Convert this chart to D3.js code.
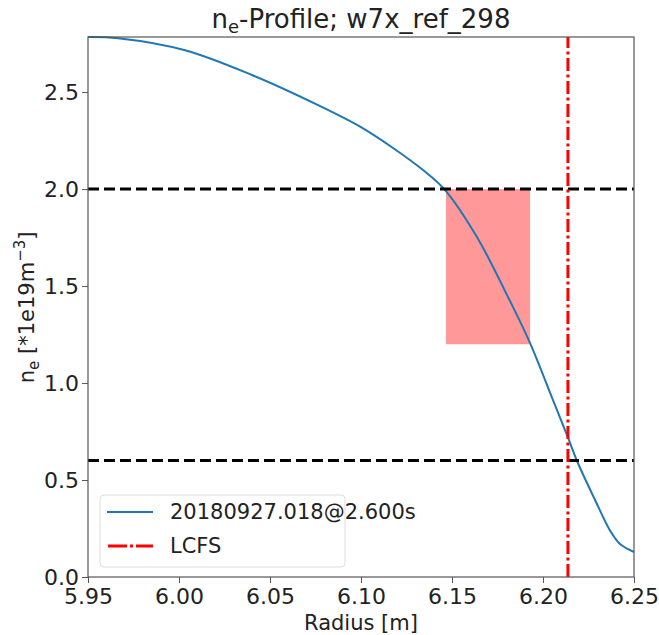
<!DOCTYPE html>
<html>
<head>
<meta charset="utf-8">
<script src="https://cdn.jsdelivr.net/npm/d3@7"></script>
<style>
  body { margin: 0; background: #fff; }
  text { font-family: 'DejaVu Sans', sans-serif; }
</style>
</head>
<body>
<div id="chart"></div>
<script>
// profile
const radius = [5.95, 5.9665, 6.0033, 6.0401, 6.0764, 6.0995, 6.1176, 6.1341, 6.1462,
  6.1637, 6.1808, 6.1929, 6.2055, 6.2137, 6.2187, 6.2286, 6.2368, 6.2423, 6.25]
const density = [2.784, 2.778, 2.716, 2.588, 2.433, 2.322, 2.212, 2.098, 1.995,
  1.753, 1.443, 1.206, 0.912, 0.72, 0.598, 0.397, 0.24, 0.17, 0.129]
const xTicks = [5.95, 6.00, 6.05, 6.10, 6.15, 6.20, 6.25]
const yTicks = [0.0, 0.5, 1.0, 1.5, 2.0, 2.5]
const limits = [2.0, 0.6]
const lcfs = 6.2137
const box = { x0: 6.1467, x1: 6.1929, y0: 1.2, y1: 2.0 }
const seriesLabel = '20180927.018@2.600s'

const width = 659
const height = 635
const margin = { top: 37, right: 25, bottom: 58, left: 88 }

const svg = d3.select('#chart').append('svg')
  .attr('width', width)
  .attr('height', height)

const x = d3.scaleLinear().domain([5.95, 6.25]).range([margin.left, width - margin.right])
const y = d3.scaleLinear().domain([0, 2.784]).range([height - margin.bottom, margin.top])

const g = svg.append('g')

// shaded region
g.append('rect')
  .attr('x', x(box.x0))
  .attr('y', y(box.y1))
  .attr('width', x(box.x1) - x(box.x0))
  .attr('height', y(box.y0) - y(box.y1))
  .attr('fill', '#ff9898')

const line = d3.line().curve(d3.curveCatmullRom.alpha(0.5))
  .x((d, i) => x(radius[i]))
  .y(d => y(d))

g.append('path')
  .datum(density)
  .attr('d', line)
  .attr('fill', 'none')
  .attr('stroke', '#1f77b4')
  .attr('stroke-width', 2)

g.selectAll('.lim').data(limits).enter().append('line')
  .attr('x1', x.range()[0]).attr('x2', x.range()[1])
  .attr('y1', d => y(d)).attr('y2', d => y(d))
  .attr('stroke', '#000')
  .attr('stroke-width', 3)
  .attr('stroke-dasharray', '11,5')

g.append('line')
  .attr('x1', x(lcfs)).attr('x2', x(lcfs))
  .attr('y1', y.range()[0]).attr('y2', y.range()[1])
  .attr('stroke', '#ff0000')
  .attr('stroke-width', 3)
  .attr('stroke-dasharray', '13,3.5,3,3.5')

// frame
svg.append('rect')
  .attr('x', margin.left).attr('y', margin.top)
  .attr('width', x.range()[1] - margin.left)
  .attr('height', y.range()[0] - margin.top)
  .attr('fill', 'none')
  .attr('stroke', '#555')
  .attr('stroke-width', 1.2)

const xAxis = svg.append('g')
  .attr('transform', 'translate(0,' + (height - margin.bottom) + ')')
  .call(d3.axisBottom(x).tickValues(xTicks).tickFormat(d3.format('.2f')).tickSizeOuter(0).tickSize(6))
const yAxis = svg.append('g')
  .attr('transform', 'translate(' + margin.left + ',0)')
  .call(d3.axisLeft(y).tickValues(yTicks).tickFormat(d3.format('.1f')).tickSizeOuter(0).tickSize(6))

for (const ax of [xAxis, yAxis]) {
  ax.select('.domain').remove()
  ax.selectAll('line').attr('stroke', '#555')
  ax.selectAll('text').attr('font-size', 22).attr('fill', '#222')
}
xAxis.selectAll('text').attr('dy', '0.75em').attr('y', 10)
yAxis.selectAll('text').attr('dy', '0.35em').attr('x', -9)

svg.append('text')
  .attr('x', x(6.1)).attr('y', 630)
  .attr('text-anchor', 'middle').attr('font-size', 21).attr('fill', '#222')
  .text('Radius [m]')

const yl = svg.append('text')
  .attr('transform', 'translate(34,' + y(1.39) + ') rotate(-90)')
  .attr('text-anchor', 'middle').attr('font-size', 21).attr('fill', '#222')
yl.append('tspan').text('n')
yl.append('tspan').attr('font-size', 15).attr('dy', 5).text('e')
yl.append('tspan').attr('dy', -5).text(' [*1e19m')
yl.append('tspan').attr('font-size', 15).attr('dy', -9).text('−3')
yl.append('tspan').attr('dy', 9).text(']')

const title = svg.append('text')
  .attr('x', x(6.1)).attr('y', 28)
  .attr('text-anchor', 'middle').attr('font-size', 26).attr('fill', '#222')
title.append('tspan').text('n')
title.append('tspan').attr('font-size', 18).attr('dy', 5).text('e')
title.append('tspan').attr('dy', -5).text('-Profile; w7x_ref_298')

// legend
const lg = svg.append('g')
lg.append('rect')
  .attr('x', 100).attr('y', 495).attr('width', 245).attr('height', 72)
  .attr('rx', 4)
  .attr('fill', '#fff').attr('fill-opacity', 0.85)
  .attr('stroke', '#ddd')
lg.append('line')
  .attr('x1', 107).attr('x2', 153).attr('y1', 512).attr('y2', 512)
  .attr('stroke', '#1f77b4').attr('stroke-width', 2)
lg.append('text').attr('x', 170).attr('y', 519).attr('font-size', 21).attr('fill', '#222').text(seriesLabel)
lg.append('line')
  .attr('x1', 108).attr('x2', 153).attr('y1', 546).attr('y2', 546)
  .attr('stroke', '#ff0000').attr('stroke-width', 3)
  .attr('stroke-dasharray', '19,3,3,3')
lg.append('text').attr('x', 170).attr('y', 553).attr('font-size', 21).attr('fill', '#222').text('LCFS')
</script>
</body>
</html>
